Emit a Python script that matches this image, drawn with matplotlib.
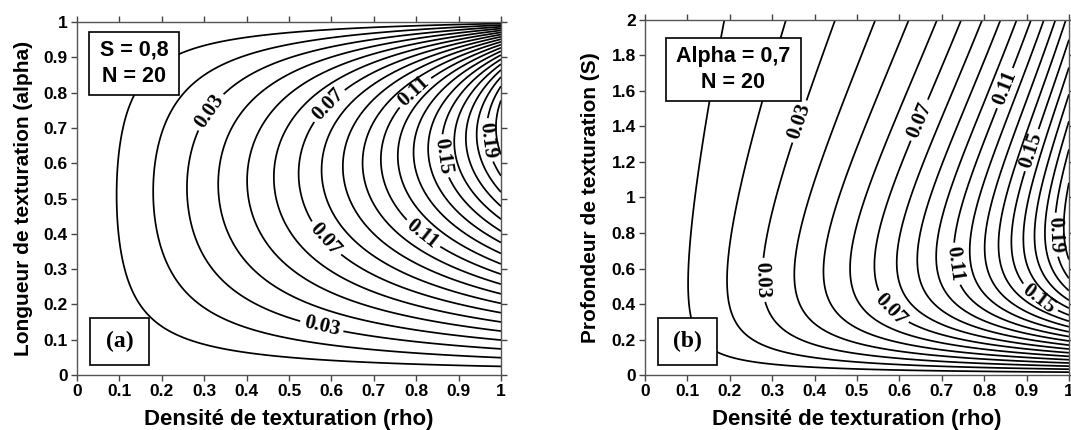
import numpy as np
import matplotlib
matplotlib.use("Agg")
import matplotlib.pyplot as plt
from matplotlib.patches import Rectangle

plt.rcParams['font.family'] = ['Liberation Sans', 'DejaVu Sans']
plt.rcParams['font.weight'] = 'bold'

# --- parameters of the two maps ---
N_TEXT = 20          # number of textures
S_FIXED = 0.8        # depth used in (a)
ALPHA_FIXED = 0.7    # texture length used in (b)

levels = [0.01, 0.02, 0.03, 0.04, 0.05, 0.06, 0.07, 0.08, 0.09, 0.10,
          0.11, 0.12, 0.13, 0.14, 0.15, 0.16, 0.17, 0.18, 0.19, 0.20]
label_levels = [0.03, 0.07, 0.11, 0.15, 0.19]

# label positions (rho, alpha) / (rho, S)
label_pos_a = [(0.297, 0.76), (0.578, 0.142), (0.58, 0.78), (0.59, 0.39),
               (0.79, 0.81), (0.816, 0.40), (0.864, 0.62), (0.974, 0.666)]
label_pos_b = [(0.337, 1.45), (0.266, 0.535), (0.633, 1.45), (0.573, 0.355),
               (0.845, 1.62), (0.715, 0.62), (0.908, 1.27), (0.93, 0.43),
               (0.967, 0.79)]

xticks = [0, 0.1, 0.2, 0.3, 0.4, 0.5, 0.6, 0.7, 0.8, 0.9, 1]
yticks_a = [0, 0.1, 0.2, 0.3, 0.4, 0.5, 0.6, 0.7, 0.8, 0.9, 1]
yticks_b = [0, 0.2, 0.4, 0.6, 0.8, 1, 1.2, 1.4, 1.6, 1.8, 2]


def load(rho, alpha, S, n=N_TEXT):
    """Dimensionless load of a partially textured parallel slider (1D Reynolds)."""
    rho, alpha, S = np.broadcast_arrays(rho, alpha, S)
    L = alpha / n
    hd = 1.0 + S
    one = np.ones_like(rho)
    seg = []
    for k in range(n):
        seg.append((L * (1 - rho) / 2, one))
        seg.append((L * rho, hd))
        seg.append((L * (1 - rho) / 2, one))
    seg.append((1 - alpha, one))
    I2 = sum(l / h**2 for l, h in seg)
    I3 = sum(l / h**3 for l, h in seg)
    hm = I2 / I3
    p = np.zeros_like(rho)
    W = np.zeros_like(rho)
    for l, h in seg:
        g = 6 * (1 / h**2 - hm / h**3)
        W = W + l * (p + g * l / 2)
        p = p + g * l
    return W


rho = np.linspace(0.0, 1.0, 401)
alpha = np.linspace(0.0, 1.0, 401)
S = np.linspace(0.0, 2.0, 401)

R1, A1 = np.meshgrid(rho, alpha)
W1 = load(R1, A1, S_FIXED)
R2, S2 = np.meshgrid(rho, S)
W2 = load(R2, ALPHA_FIXED, S2)

fig = plt.figure(figsize=(10.71, 4.30), dpi=100)
ax1 = fig.add_axes([0.0719, 0.1279, 0.3959, 0.8209])
ax2 = fig.add_axes([0.6022, 0.1279, 0.3959, 0.8256])


def style(ax, yt, ylim, ylabel):
    ax.set_xlim(0, 1)
    ax.set_ylim(*ylim)
    ax.set_xticks(xticks)
    ax.set_xticklabels(['%g' % v for v in xticks])
    ax.set_yticks(yt)
    ax.set_yticklabels(['%g' % v for v in yt])
    ax.tick_params(direction='out', length=4, width=1, colors='#444444',
                   labelcolor='black', labelsize=12.5, top=True, right=True, pad=2.5)
    for sp in ax.spines.values():
        sp.set_color('#555555')
        sp.set_linewidth(1.0)
    ax.set_xlabel('Densité de texturation (rho)', fontsize=16, fontweight='bold', labelpad=7)
    ax.set_ylabel(ylabel, fontsize=15, fontweight='bold', labelpad=8)


other_levels = [v for v in levels if all(abs(v - w) > 1e-9 for w in label_levels)]


def draw(ax, X, Y, Z, pos):
    ax.contour(X, Y, Z, levels=other_levels, colors='k', linewidths=1.25)
    cs = ax.contour(X, Y, Z, levels=label_levels, colors='k', linewidths=1.25)
    with plt.rc_context({'font.family': ['Liberation Serif'], 'font.weight': 'bold'}):
        ax.clabel(cs, manual=pos, fmt='%.2f', fontsize=15,
                  inline=True, inline_spacing=4)


def boxed(ax, x0, y0, x1, y1, txt, **kw):
    ax.add_patch(Rectangle((x0, y0), x1 - x0, y1 - y0, transform=ax.transAxes,
                           facecolor='white', edgecolor='black', linewidth=1.2,
                           zorder=5, clip_on=False))
    ax.text((x0 + x1) / 2, (y0 + y1) / 2, txt, transform=ax.transAxes,
            ha='center', va='center', zorder=6, **kw)


draw(ax1, R1, A1, W1, label_pos_a)
style(ax1, yticks_a, (0, 1), 'Longueur de texturation (alpha)')
draw(ax2, R2, S2, W2, label_pos_b)
style(ax2, yticks_b, (0, 2), 'Profondeur de texturation (S)')

boxed(ax1, 0.028, 0.793, 0.241, 0.972, 'S = 0,8\nN = 20',
      fontsize=15.5, fontweight='bold', linespacing=1.35)
boxed(ax2, 0.0495, 0.772, 0.368, 0.949, 'Alpha = 0,7\nN = 20',
      fontsize=15.5, fontweight='bold', linespacing=1.35)
boxed(ax1, 0.031, 0.028, 0.170, 0.161, '(a)',
      fontsize=17, fontweight='bold', family='Liberation Serif')
boxed(ax2, 0.031, 0.028, 0.170, 0.161, '(b)',
      fontsize=17, fontweight='bold', family='Liberation Serif')

fig.savefig('out.png', dpi=100)
